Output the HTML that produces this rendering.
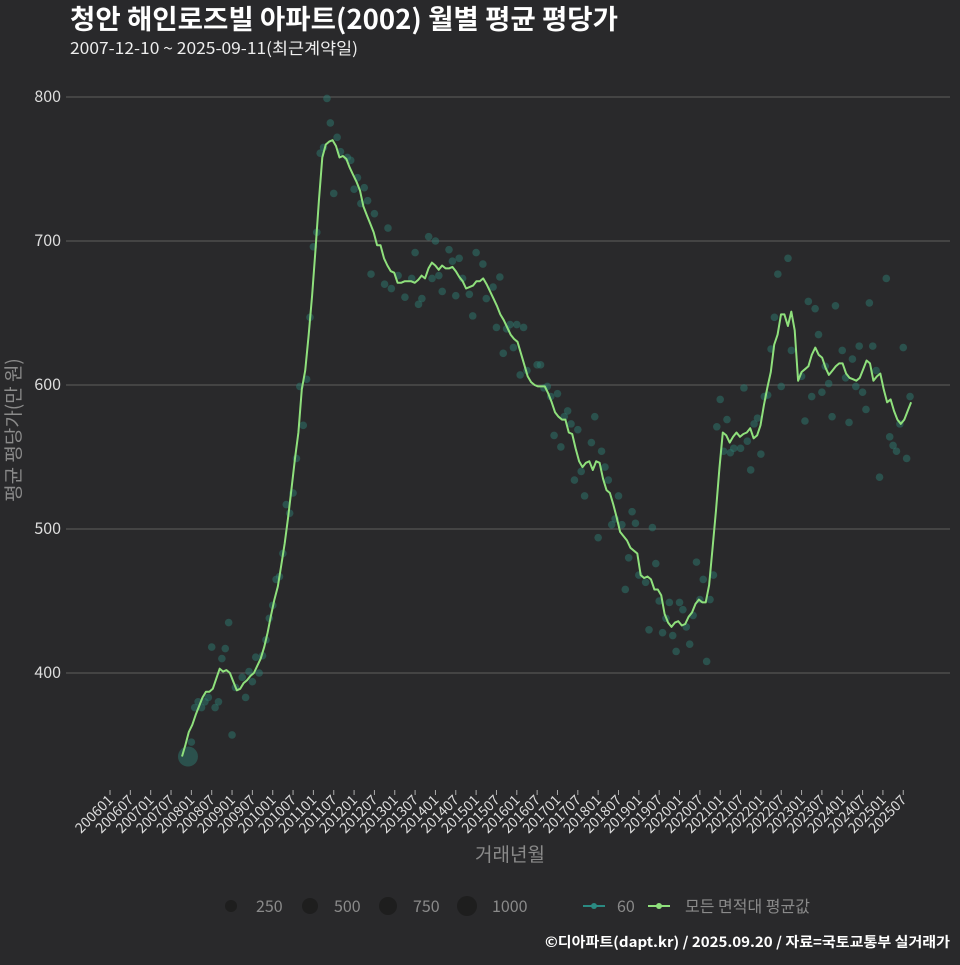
<!DOCTYPE html>
<html><head><meta charset="utf-8">
<style>
html,body{margin:0;padding:0;background:#29292b;}
svg text{font-family:"Noto Sans CJK KR","Liberation Sans",sans-serif;}
</style></head>
<body>
<svg id="chart" width="960" height="960" viewBox="0 0 960 960" xmlns="http://www.w3.org/2000/svg">
<rect x="0" y="0" width="960" height="960" fill="#29292b"/>
<text x="70" y="29" fill="#ffffff" font-size="27" font-weight="bold" textLength="548" lengthAdjust="spacingAndGlyphs">청안 해인로즈빌 아파트(2002) 월별 평균 평당가</text>
<text x="70" y="54" fill="#eeeeee" font-size="16" textLength="288" lengthAdjust="spacingAndGlyphs">2007-12-10 ~ 2025-09-11(최근계약일)</text>
<g id="grid"></g>
<g id="yticks"></g>
<g id="xticks"></g>
<g id="dots"></g>
<path id="avgline" fill="none" stroke="#8fe07c" stroke-width="2" stroke-linejoin="round"/>
<text x="510" y="861" fill="#8a8a8a" font-size="19" text-anchor="middle">거래년월</text>
<text transform="translate(20,430) rotate(-90)" fill="#8a8a8a" font-size="19" text-anchor="middle">평균 평당가(만 원)</text>
<g>
  <circle cx="231" cy="906" r="6" fill="#1e1e1e"/>
  <text x="256" y="912" fill="#8a8a8a" font-size="16">250</text>
  <circle cx="310" cy="906" r="8" fill="#1e1e1e"/>
  <text x="334" y="912" fill="#8a8a8a" font-size="16">500</text>
  <circle cx="388" cy="906" r="9" fill="#1e1e1e"/>
  <text x="413" y="912" fill="#8a8a8a" font-size="16">750</text>
  <circle cx="467" cy="906" r="10" fill="#1e1e1e"/>
  <text x="492" y="912" fill="#8a8a8a" font-size="16">1000</text>
  <line x1="583" y1="906" x2="605" y2="906" stroke="#2a8a82" stroke-width="2"/>
  <circle cx="594" cy="906" r="3" fill="#2a8a82"/>
  <text x="617" y="912" fill="#8a8a8a" font-size="16">60</text>
  <line x1="648" y1="906" x2="670" y2="906" stroke="#8fe07c" stroke-width="2"/>
  <circle cx="659" cy="906" r="3" fill="#8fe07c"/>
  <text x="685" y="912" fill="#8a8a8a" font-size="16">모든 면적대 평균값</text>
</g>
<text x="950" y="947" fill="#ffffff" font-size="14" font-weight="bold" text-anchor="end" textLength="405" lengthAdjust="spacingAndGlyphs">©디아파트(dapt.kr) / 2025.09.20 / 자료=국토교통부 실거래가</text>
</svg>
<script>
const yTicks=[400,500,600,700,800];
const xTickLabels=["200601","200607","200701","200707","200801","200807","200901","200907","201001","201007","201101","201107","201201","201207","201301","201307","201401","201407","201501","201507","201601","201607","201701","201707","201801","201807","201901","201907","202001","202007","202101","202107","202201","202207","202301","202307","202401","202407","202501","202507"];
// months since 2006-01; average line starts 2007-12 (month 23)
const lineStart=23;
const lineValues=[342,350,359,364,371,377,383,387,387,389,396,403,401,402,400,394,388,389,393,395,398,400,405,410,418,428,440,451,460,475,490,508,528,549,567,597,610,635,662,694,728,758,767,769,770,766,758,759,757,751,746,741,735,724,718,712,706,697,697,688,683,679,678,671,671,672,672,672,671,673,676,674,681,685,683,680,683,681,681,682,679,675,672,667,668,669,672,672,674,670,665,660,655,649,645,640,635,632,630,622,614,606,602,600,599,599,599,594,588,581,578,576,576,567,566,556,547,543,546,547,541,547,546,535,527,525,517,508,498,495,492,487,485,483,468,466,467,465,458,458,454,441,435,432,435,436,433,434,439,442,448,451,449,449,461,487,513,542,567,565,560,564,567,564,566,567,570,563,565,572,586,598,609,628,635,649,649,641,651,638,603,609,611,613,621,626,621,619,612,607,610,613,615,615,608,605,604,603,605,611,617,615,603,606,608,597,588,590,582,576,573,576,582,588];
const dotMonths=[23,24,26,25,27,28,29,31,32,30,34,33,35,36,37,39,40,41,42,43,44,45,46,47,48,49,50,51,52,53,54,55,57,56,58,59,60,61,62,63,64,65,67,66,68,70,71,73,75,72,74,76,78,82,77,81,83,85,87,89,90,91,92,94,96,95,97,98,100,101,103,102,104,106,107,108,110,111,113,115,114,117,118,120,122,119,116,121,123,126,127,128,129,130,132,131,133,134,135,136,138,137,140,139,142,143,145,146,147,150,144,148,151,149,154,155,153,156,158,152,160,161,162,159,163,164,165,166,167,168,169,170,171,172,173,174,175,177,176,178,179,180,181,182,183,184,186,187,188,189,190,191,192,193,194,195,196,197,198,200,201,204,205,206,207,208,209,210,211,212,213,214,216,217,218,219,220,221,222,223,224,225,226,227,229,230,231,232,233,234,235,236];
const dotValues=[342,352,380,376,376,380,383,376,380,418,417,410,435,357,390,397,383,401,394,411,400,412,423,438,447,465,467,483,517,511,525,549,572,599,604,647,696,706,761,765,799,782,772,733,762,758,756,744,737,736,726,728,719,709,677,670,667,676,661,674,692,656,660,703,700,674,676,665,694,686,688,662,674,663,648,692,684,660,668,675,640,639,642,642,640,626,622,607,610,614,614,598,599,592,594,565,557,578,582,573,569,534,523,540,560,578,554,543,534,523,494,503,503,507,512,504,480,468,463,458,501,476,450,430,428,438,449,426,415,449,444,432,420,440,477,451,465,451,408,468,571,590,554,576,553,556,556,598,561,541,573,577,552,592,593,625,647,677,599,688,624,606,575,658,592,653,635,595,613,601,578,655,624,605,574,618,599,627,595,583,657,627,610,536,674,564,558,554,573,626,549,592];
const dotCounts=[1000];

const NS="http://www.w3.org/2000/svg";
const L=66,R=950;
function xScale(m){return 110+m*3.39;}
function lineX(i){return 182+i*3.423;}
function yScale(v){return 673-(v-400)*1.44;}

const grid=document.getElementById('grid');
const yt=document.getElementById('yticks');
yTicks.forEach(v=>{
  const ln=document.createElementNS(NS,'line');
  ln.setAttribute('x1',L);ln.setAttribute('x2',R);
  ln.setAttribute('y1',yScale(v));ln.setAttribute('y2',yScale(v));
  ln.setAttribute('stroke','#5e5e5e');ln.setAttribute('stroke-width','1');
  
  
  grid.appendChild(ln);
  const t=document.createElementNS(NS,'text');
  t.setAttribute('x',61);t.setAttribute('y',yScale(v)+5);
  t.setAttribute('text-anchor','end');t.setAttribute('fill','#dddddd');t.setAttribute('font-size','16');
  t.textContent=v;
  
  
  yt.appendChild(t);
});
const xt=document.getElementById('xticks');
xTickLabels.forEach((lab,i)=>{
  const x=xScale(i*6);
  const tk=document.createElementNS(NS,'line');
  tk.setAttribute('x1',x);tk.setAttribute('x2',x);tk.setAttribute('y1',790);tk.setAttribute('y2',795);
  tk.setAttribute('stroke','#aaaaaa');
  
  
  xt.appendChild(tk);
  const t=document.createElementNS(NS,'text');
  t.setAttribute('transform','translate('+(x+4)+',801) rotate(-45)');
  t.setAttribute('text-anchor','end');t.setAttribute('fill','#dddddd');t.setAttribute('font-size','14');
  t.textContent=lab;
  
  
  xt.appendChild(t);
});
const dg=document.getElementById('dots');
dotMonths.forEach((m,i)=>{
  const c=document.createElementNS(NS,'circle');
  c.setAttribute('cx',xScale(m));c.setAttribute('cy',yScale(dotValues[i]));
  c.setAttribute('r', i<dotCounts.length? 10 : 3.8);
  c.setAttribute('fill','#2d7a70');c.setAttribute('fill-opacity','0.5');
  
  
  dg.appendChild(c);
});
let d='';
lineValues.forEach((v,i)=>{d+=(i?'L':'M')+lineX(i).toFixed(1)+','+yScale(v).toFixed(1);});
document.getElementById('avgline').setAttribute('d',d);
</script>
</body></html>
